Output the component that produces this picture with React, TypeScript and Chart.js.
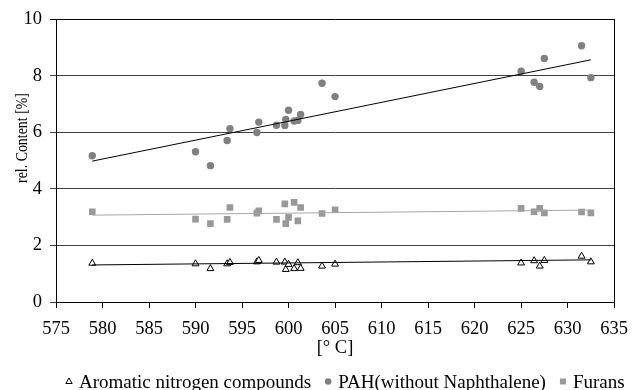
import React, { useEffect, useRef } from 'react';
import { Chart, registerables } from 'chart.js';

Chart.register(...registerables);

// Sample temperatures [°C]
const temperatures = [578.9, 590.0, 591.6, 593.4, 593.7, 596.6, 596.8, 598.7, 599.6, 599.7, 600.0, 600.6, 601.0, 601.3, 603.6, 605.0, 625.0, 626.4, 627.0, 627.5, 631.5, 632.5];
// rel. content [%]
const nitrogenValues = [1.37, 1.35, 1.18, 1.35, 1.40, 1.42, 1.47, 1.41, 1.41, 1.15, 1.33, 1.18, 1.39, 1.19, 1.27, 1.34, 1.38, 1.46, 1.27, 1.47, 1.62, 1.42];
const pahValues = [5.17, 5.31, 4.82, 5.71, 6.13, 5.99, 6.36, 6.25, 6.24, 6.45, 6.78, 6.40, 6.42, 6.63, 7.73, 7.26, 8.16, 7.77, 7.62, 8.61, 9.06, 7.93];
const furanValues = [3.19, 2.93, 2.77, 2.92, 3.34, 3.14, 3.22, 2.92, 3.47, 2.77, 2.99, 3.52, 2.87, 3.34, 3.13, 3.26, 3.31, 3.19, 3.31, 3.15, 3.18, 3.15];

// Linear trend line end points
const trendX = [578.9, 632.5];
const nitrogenTrend = [1.31, 1.49];
const pahTrend = [4.98, 8.56];
const furanTrend = [3.07, 3.25];

const seriesLabels = ['Aromatic nitrogen compounds', 'PAH(without Naphthalene)', 'Furans'];
const xTitle = '[° C]';
const yTitle = 'rel. Content [%]';

const FONT = "'Liberation Serif', 'Times New Roman', serif";

export default function App() {
  const ref = useRef<HTMLCanvasElement>(null);

  useEffect(() => {
    document.body.style.margin = '0';
    const canvas = ref.current;
    if (!canvas) return;

    const pts = (xs: number[], ys: number[]) => xs.map((x, i) => ({ x, y: ys[i] }));

    const overlay = {
      id: 'overlay',
      afterDraw(chart: any) {
        const { ctx, chartArea: a } = chart;
        ctx.save();
        // right border
        ctx.strokeStyle = '#000';
        ctx.lineWidth = 1;
        const rx = Math.round(a.right - 0.5) + 0.5;
        ctx.beginPath();
        ctx.moveTo(rx, a.top);
        ctx.lineTo(rx, a.bottom);
        ctx.stroke();

        ctx.fillStyle = '#000';
        // x title
        ctx.font = `18.5px ${FONT}`;
        ctx.textAlign = 'center';
        ctx.textBaseline = 'alphabetic';
        ctx.fillText(xTitle, 335, 353);

        // y title (rotated, slightly condensed)
        ctx.save();
        ctx.font = `17px ${FONT}`;
        const w = ctx.measureText(yTitle).width;
        ctx.translate(27, 138);
        ctx.rotate(-Math.PI / 2);
        ctx.scale(90 / w, 1);
        ctx.textAlign = 'center';
        ctx.fillText(yTitle, 0, 0);
        ctx.restore();

        // legend
        ctx.font = `19px ${FONT}`;
        ctx.textAlign = 'left';
        const ly = 381.5;
        let cx = 69;
        const metas = [0, 1, 2];
        metas.forEach((di) => {
          const ds = chart.data.datasets[di];
          ctx.save();
          ctx.fillStyle = ds.backgroundColor;
          ctx.strokeStyle = ds.borderColor;
          ctx.lineWidth = 1;
          if (di === 0) {
            ctx.beginPath();
            ctx.moveTo(cx, ly - 3.5);
            ctx.lineTo(cx + 3.2, ly + 2);
            ctx.lineTo(cx - 3.2, ly + 2);
            ctx.closePath();
            ctx.fill();
            ctx.stroke();
          } else if (di === 1) {
            ctx.beginPath();
            ctx.arc(cx, ly, 3.3, 0, Math.PI * 2);
            ctx.fill();
          } else {
            ctx.fillRect(cx - 3, ly - 3, 6, 6);
          }
          ctx.restore();
          const tx = cx + 10;
          ctx.fillStyle = '#000';
          ctx.fillText(seriesLabels[di], tx, 387.5);
          cx = tx + ctx.measureText(seriesLabels[di]).width + 17;
        });
        ctx.restore();
      },
    };

    const chart = new Chart(canvas, {
      type: 'scatter',
      data: {
        datasets: [
          {
            label: seriesLabels[0],
            data: pts(temperatures, nitrogenValues),
            pointStyle: 'triangle',
            pointRadius: 4,
            backgroundColor: '#ffffff',
            borderColor: '#000000',
            pointBorderWidth: 1,
            order: 3,
          },
          {
            label: seriesLabels[1],
            data: pts(temperatures, pahValues),
            pointStyle: 'circle',
            pointRadius: 3.7,
            backgroundColor: '#808080',
            borderColor: '#808080',
            pointBorderWidth: 0,
            order: 3,
          },
          {
            label: seriesLabels[2],
            data: pts(temperatures, furanValues),
            pointStyle: 'rect',
            pointRadius: 4.7,
            backgroundColor: '#999999',
            borderColor: '#999999',
            pointBorderWidth: 0,
            order: 3,
          },
          {
            type: 'line',
            label: 'trend-n',
            data: pts(trendX, nitrogenTrend),
            borderColor: '#000000',
            borderWidth: 1,
            pointRadius: 0,
            showLine: true,
            fill: false,
            order: 1,
          },
          {
            type: 'line',
            label: 'trend-pah',
            data: pts(trendX, pahTrend),
            borderColor: '#000000',
            borderWidth: 1,
            pointRadius: 0,
            showLine: true,
            fill: false,
            order: 1,
          },
          {
            type: 'line',
            label: 'trend-furan',
            data: pts(trendX, furanTrend),
            borderColor: '#a6a6a6',
            borderWidth: 1,
            pointRadius: 0,
            showLine: true,
            fill: false,
            order: 1,
          },
        ] as any,
      },
      options: {
        animation: false,
        responsive: false,
        maintainAspectRatio: false,
        layout: { padding: { top: 17, right: 15, left: 0, bottom: 0 } },
        plugins: { legend: { display: false }, tooltip: { enabled: false } },
        scales: {
          x: {
            type: 'linear',
            min: 575,
            max: 635,
            ticks: {
              stepSize: 5,
              color: '#000',
              font: { family: FONT, size: 18.5 },
              padding: 10,
              maxRotation: 0,
              autoSkip: false,
            },
            grid: { drawOnChartArea: false, color: '#000', tickLength: 6 },
            border: { color: '#000' },
            afterFit: (s: any) => {
              s.height = 88;
            },
          },
          y: {
            min: 0,
            max: 10,
            ticks: {
              stepSize: 2,
              color: '#000',
              font: { family: FONT, size: 18.5 },
              padding: 8,
            },
            grid: {
              color: (c: any) => (c.tick && c.tick.value === 10 ? '#000' : '#404040'),
              tickLength: 6,
            },
            border: { color: '#000' },
            afterFit: (s: any) => {
              s.width = 56;
            },
          },
        },
      } as any,
      plugins: [overlay],
    });

    return () => chart.destroy();
  }, []);

  return (
    <div style={{ width: 638, height: 390, background: '#fff' }}>
      <canvas ref={ref} width={638} height={390} style={{ display: 'block' }} />
    </div>
  );
}
